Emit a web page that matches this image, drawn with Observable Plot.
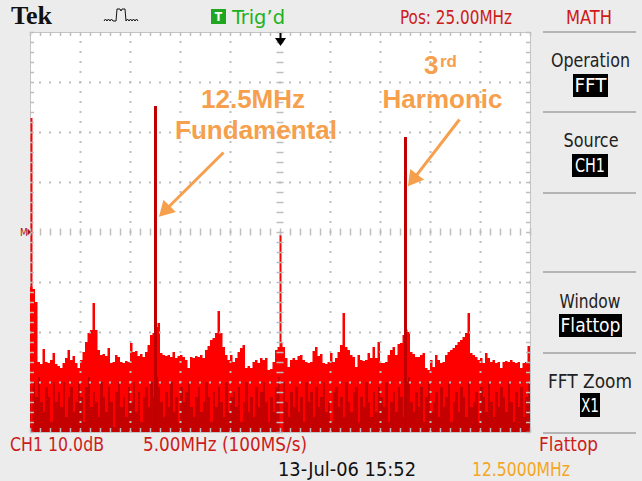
<!DOCTYPE html>
<html><head><meta charset="utf-8">
<script src="https://cdn.jsdelivr.net/npm/d3@7"></script>
<script src="https://cdn.jsdelivr.net/npm/@observablehq/plot@0.6"></script>
<style>
body{margin:0;background:#ececec;}
#wrap{position:relative;width:642px;height:481px;background:#ececec;overflow:hidden;}
#chart{position:absolute;left:0;top:0;}
#chrome{position:absolute;left:0;top:0;pointer-events:none;}
#chrome text{font-family:"Liberation Sans Narrow","DejaVu Sans Condensed","Liberation Sans",sans-serif;font-size:19px;}
</style></head>
<body>
<div id="wrap">
<div id="chart"></div>
<svg id="chrome" width="642" height="481">
  <text x="11" y="24" style="font-family:'Liberation Serif',serif;font-weight:bold;font-size:26px" fill="#111">Tek</text>
  <path d="M104 21 l1.5 -2 l1.5 2 l1.5 -2 l1.5 2 l1.5 -2 l1.5 2 L116 21 L117 9 L120 9 L121 11 L122 9 L125 9 L126 21 l1.5 -2 l1.5 2 l1.5 -2 l1.5 2 l1.5 -2 l1.5 2 l1.5 -2 l1.5 2" fill="none" stroke="#111" stroke-width="1"/>
  <rect x="211" y="9" width="15" height="15" fill="#1fa81f"/>
  <text x="218.5" y="21" text-anchor="middle" fill="#fff" style="font-size:12px;font-weight:bold">T</text>
  <text x="232" y="24" fill="#1db31d" textLength="53" lengthAdjust="spacingAndGlyphs">Trig’d</text>
  <text x="400" y="24" fill="#cc1c1c" textLength="112" lengthAdjust="spacingAndGlyphs">Pos: 25.00MHz</text>
  <text x="589" y="24" text-anchor="middle" fill="#d01818" textLength="46" lengthAdjust="spacingAndGlyphs">MATH</text>
  <g stroke="#b4b4b4" stroke-width="2">
    <line x1="543" x2="636" y1="32" y2="32"/>
    <line x1="543" x2="636" y1="112" y2="112"/>
    <line x1="543" x2="636" y1="193" y2="193"/>
    <line x1="543" x2="636" y1="272" y2="272"/>
    <line x1="543" x2="636" y1="353" y2="353"/>
    <line x1="543" x2="636" y1="433" y2="433"/>
  </g>
  <text x="590.5" y="67" text-anchor="middle" fill="#222" textLength="79" lengthAdjust="spacingAndGlyphs">Operation</text>
  <rect x="573" y="74" width="35" height="23" fill="#000"/>
  <text x="590.5" y="92" text-anchor="middle" fill="#fff" textLength="32" lengthAdjust="spacingAndGlyphs">FFT</text>
  <text x="591" y="147" text-anchor="middle" fill="#222" textLength="55" lengthAdjust="spacingAndGlyphs">Source</text>
  <rect x="572" y="154" width="36" height="23" fill="#000"/>
  <text x="590" y="172" text-anchor="middle" fill="#fff" textLength="30" lengthAdjust="spacingAndGlyphs">CH1</text>
  <text x="590" y="308" text-anchor="middle" fill="#222" textLength="61" lengthAdjust="spacingAndGlyphs">Window</text>
  <rect x="559" y="314" width="63" height="23" fill="#000"/>
  <text x="590.5" y="332" text-anchor="middle" fill="#fff" textLength="60" lengthAdjust="spacingAndGlyphs">Flattop</text>
  <text x="590" y="388" text-anchor="middle" fill="#222" textLength="84" lengthAdjust="spacingAndGlyphs">FFT Zoom</text>
  <rect x="580" y="393" width="20" height="24" fill="#000"/>
  <text x="590" y="412" text-anchor="middle" fill="#fff" textLength="18" lengthAdjust="spacingAndGlyphs">X1</text>
  <text x="10" y="451" fill="#cc1c1c" textLength="94" lengthAdjust="spacingAndGlyphs">CH1 10.0dB</text>
  <text x="143" y="451" fill="#cc1c1c" textLength="164" lengthAdjust="spacingAndGlyphs">5.00MHz (100MS/s)</text>
  <text x="539" y="451" fill="#cc1c1c" textLength="59" lengthAdjust="spacingAndGlyphs">Flattop</text>
  <text x="278" y="476" fill="#111" textLength="138" lengthAdjust="spacingAndGlyphs">13-Jul-06 15:52</text>
  <text x="472" y="476" fill="#f5a623" textLength="98" lengthAdjust="spacingAndGlyphs">12.5000MHz</text>
  <line x1="280.5" x2="280.5" y1="33" y2="39" stroke="#000" stroke-width="2"/>
  <polygon points="275,38 286,38 280.5,46" fill="#000"/>
  <text x="20" y="236" fill="#b01010" style="font-size:10px">M</text>
  <polygon points="27.5,228.5 31,232 27.5,235.5" fill="#b01010"/>
</svg>
</div>
<script>
// ---- data ----
const binWidthMHz = 0.25;
const noiseTopDb = [
 -11,-11.4,-14,-26,-26.4,-23.4,-26,-26.2,-25.6,-24.2,
 -26.4,-26.8,-27.2,-26.2,-25.2,-23.6,-25.6,-24.8,-26.2,-27.2,
 -25.6,-24,-22,-20.2,-19.6,-14.2,-19.6,-23.6,-24.6,-24.4,
 -24.8,-23.2,-26.2,-26,-24.6,-25,-26,-26.2,-25.8,-26,
 -22.2,-24,-23.8,-24.8,-24.4,-25,-24,-22.6,-20.6,-20.2,
 -19,-18.2,-24.2,-24.6,-24.8,-24.6,-25,-24,-25.2,-24.8,
 -24.6,-25,-25.6,-27.2,-25,-25.2,-24.8,-25,-24.6,-25.2,
 -23.6,-22.8,-21.6,-21.2,-20.2,-15.8,-20.2,-23,-24.6,-25.6,
 -24.6,-26,-25.2,-24,-23.2,-22.6,-27.2,-26.8,-27.2,-26,
 -25.6,-26.2,-25.2,-25.6,-25.2,-27.6,-27.4,-26,-23.6,-23,
 -22,-23,-25.2,-27,-25.6,-25.2,-25.6,-24.8,-24.6,-25.6,
 -26,-26.2,-26,-23.8,-23,-24.8,-24.4,-26.2,-26.4,-26,
 -24.2,-26,-25.2,-24,-22.6,-16.2,-23,-23.6,-24.6,-25,
 -27,-24.6,-25.6,-25.8,-25.6,-24.2,-25.2,-23,-25.2,-22,
 -26.2,-26.2,-26,-24.6,-23.6,-23,-24.6,-22.4,-22.2,-20.6,
 -19.5,-20,-24,-24.4,-25,-25,-24.6,-24.2,-27.2,-27.6,
 -25.6,-27,-24.6,-25.6,-26.2,-26,-24.6,-24,-23.6,-23.2,
 -22.6,-22,-21.6,-21,-20.2,-16.2,-24.2,-24.6,-25,-25.6,
 -25.2,-26.2,-24.2,-25.2,-26,-25.6,-26.2,-26,-27.2,-26,
 -25.8,-26,-25.6,-26,-26.2,-26,-27.2,-26.2,-26,-22.8
];
const noiseDarkDb = [
 -31,-30,-33,-29,-34,-36,-31,-33,-38,-30,
 -34,-32,-35,-30,-37,-33,-31,-36,-34,-30,
 -33,-38,-31,-29,-35,-32,-34,-37,-30,-33,
 -36,-31,-34,-39,-32,-30,-35,-33,-37,-31,
 -34,-30,-36,-32,-38,-33,-31,-35,-30,-33,
 -29,-31,-34,-37,-32,-35,-30,-36,-33,-38,
 -31,-34,-32,-30,-35,-37,-33,-31,-36,-34,
 -30,-33,-38,-32,-35,-31,-34,-37,-30,-36,
 -33,-32,-35,-31,-38,-34,-30,-36,-33,-37,
 -31,-35,-32,-30,-34,-38,-33,-36,-31,-29,
 -40,-30,-34,-37,-32,-35,-31,-36,-33,-38,
 -30,-34,-32,-37,-31,-35,-33,-30,-36,-34,
 -38,-32,-31,-35,-33,-37,-30,-34,-36,-32,
 -31,-38,-33,-35,-30,-34,-37,-32,-36,-31,
 -33,-35,-30,-38,-34,-32,-36,-31,-33,-37,
 -30,-29,-34,-36,-32,-35,-31,-38,-33,-30,
 -36,-34,-32,-37,-31,-35,-33,-30,-38,-34,
 -32,-36,-31,-33,-37,-30,-35,-34,-32,-38,
 -31,-33,-36,-30,-34,-37,-32,-35,-31,-33,
 -36,-30,-34,-38,-32,-35,-31,-37,-33,-30
];
const peakFreqMHz = [0.1, 12.5, 25, 37.5];
const peakDb      = [22.8, 25.2, -0.6, 19];
const peakDark    = [false, true, false, true];

const labelText = ["12.5MHz", "Fundamental", "Harmonic"];
const labelFreq = [22.25, 22.55, 41.2];
const labelDb   = [25, 18.8, 25];

const arrowFrom = [[19.3, 16], [42.9, 22.6]];
const arrowTo   = [[13.56, 4.6], [38.36, 10.84]];
const arrowAngle = [225, 217.7];

// ---- tables ----
const bins = noiseTopDb.map((v, i) => ({f0: i * binWidthMHz, f1: (i + 1) * binWidthMHz, top: v, dark: noiseDarkDb[i]}));
const areaPts = bins.map(b => ({f: b.f0, v: b.top})).concat([{f: 50, v: noiseTopDb[noiseTopDb.length - 1]}]);
const peaks = peakFreqMHz.map((f, i) => ({f, db: peakDb[i], dark: peakDark[i]}));
const labels = labelText.map((t, i) => ({t, f: labelFreq[i], db: labelDb[i]}));
const arrows = arrowFrom.map((a, i) => ({x1: a[0], y1: a[1], x2: arrowTo[i][0], y2: arrowTo[i][1], angle: arrowAngle[i]}));

const majorX = d3.range(0, 50.001, 5);
const majorY = d3.range(-40, 40.001, 10);
const minorX = d3.range(0, 50.001, 1);
const minorY = d3.range(-40, 40.001, 2);

const orange = "#f6a04d";
const grid = "#bdbdbd";
const font = "'Liberation Sans', Arial, sans-serif";

const chart = Plot.plot({
  width: 642, height: 481,
  marginTop: 32, marginRight: 112, marginBottom: 49, marginLeft: 30,
  x: {domain: [0, 50], axis: null},
  y: {domain: [-40, 40], axis: null},
  style: {background: "transparent", overflow: "visible"},
  marks: [
    Plot.frame({fill: "white", stroke: "#c4c4c4"}),
    Plot.area(areaPts, {x1: "f", y1: -40, y2: "v", curve: "step-after", fill: "#ff0000"}),
    Plot.rect(bins, {x1: "f0", x2: "f1", y1: -40, y2: "dark", fill: "#c40000", shapeRendering: "crispEdges"}),
    Plot.ruleX(peaks.filter(d => !d.dark), {x: "f", y1: -40, y2: "db", stroke: "#ff0000", strokeWidth: 2}),
    Plot.ruleX(peaks.filter(d => d.dark), {x: "f", y1: -40, y2: "db", stroke: "#c00000", strokeWidth: 3}),
    // dotted graticule
    Plot.ruleX(majorX.filter(v => v !== 25 && v !== 0 && v !== 50), {stroke: grid, strokeWidth: 2, strokeDasharray: "2,8", strokeDashoffset: 1}),
    Plot.ruleY(majorY.filter(v => v !== 0 && v !== 40 && v !== -40), {stroke: grid, strokeWidth: 2, strokeDasharray: "2,8", strokeDashoffset: 1}),
    // centre cross ticks
    Plot.ruleX(minorX, {x: d => d, y1: -0.7, y2: 0.7, stroke: grid, strokeWidth: 1.5}),
    Plot.ruleY(minorY, {y: d => d, x1: 24.65, x2: 25.35, stroke: grid, strokeWidth: 1.5}),
    // border ticks
    Plot.ruleX(minorX, {x: d => d, y1: 39.2, y2: 40, stroke: grid, strokeWidth: 1.5}),
    Plot.ruleX(minorX, {x: d => d, y1: -40, y2: -39.2, stroke: grid, strokeWidth: 1.5}),
    Plot.ruleY(minorY, {y: d => d, x1: 0, x2: 0.4, stroke: grid, strokeWidth: 1.5}),
    Plot.ruleY(minorY, {y: d => d, x1: 49.6, x2: 50, stroke: grid, strokeWidth: 1.5}),
    // annotations
    Plot.text(labels, {x: "f", y: "db", text: "t", fill: orange, fontSize: 26, fontWeight: "bold", fontFamily: font, textAnchor: "middle", lineAnchor: "bottom"}),
    Plot.text(["3"], {x: 40.8, y: 31.8, text: d => d, fill: orange, fontSize: 26, fontWeight: "bold", fontFamily: font, textAnchor: "end", lineAnchor: "bottom"}),
    Plot.text(["rd"], {x: 40.95, y: 33.2, text: d => d, fill: orange, fontSize: 17, fontWeight: "bold", fontFamily: font, textAnchor: "start", lineAnchor: "bottom"}),
    Plot.link(arrows, {x1: "x1", y1: "y1", x2: "x2", y2: "y2", stroke: orange, strokeWidth: 3}),
    Plot.dot(arrows.slice(0, 1), {x: "x2", y: "y2", symbol: "triangle", r: 6.5, fill: orange, rotate: arrowAngle[0]}),
    Plot.dot(arrows.slice(1, 2), {x: "x2", y: "y2", symbol: "triangle", r: 6.5, fill: orange, rotate: arrowAngle[1]})
  ]
});
document.getElementById("chart").appendChild(chart);
</script>
</body></html>
